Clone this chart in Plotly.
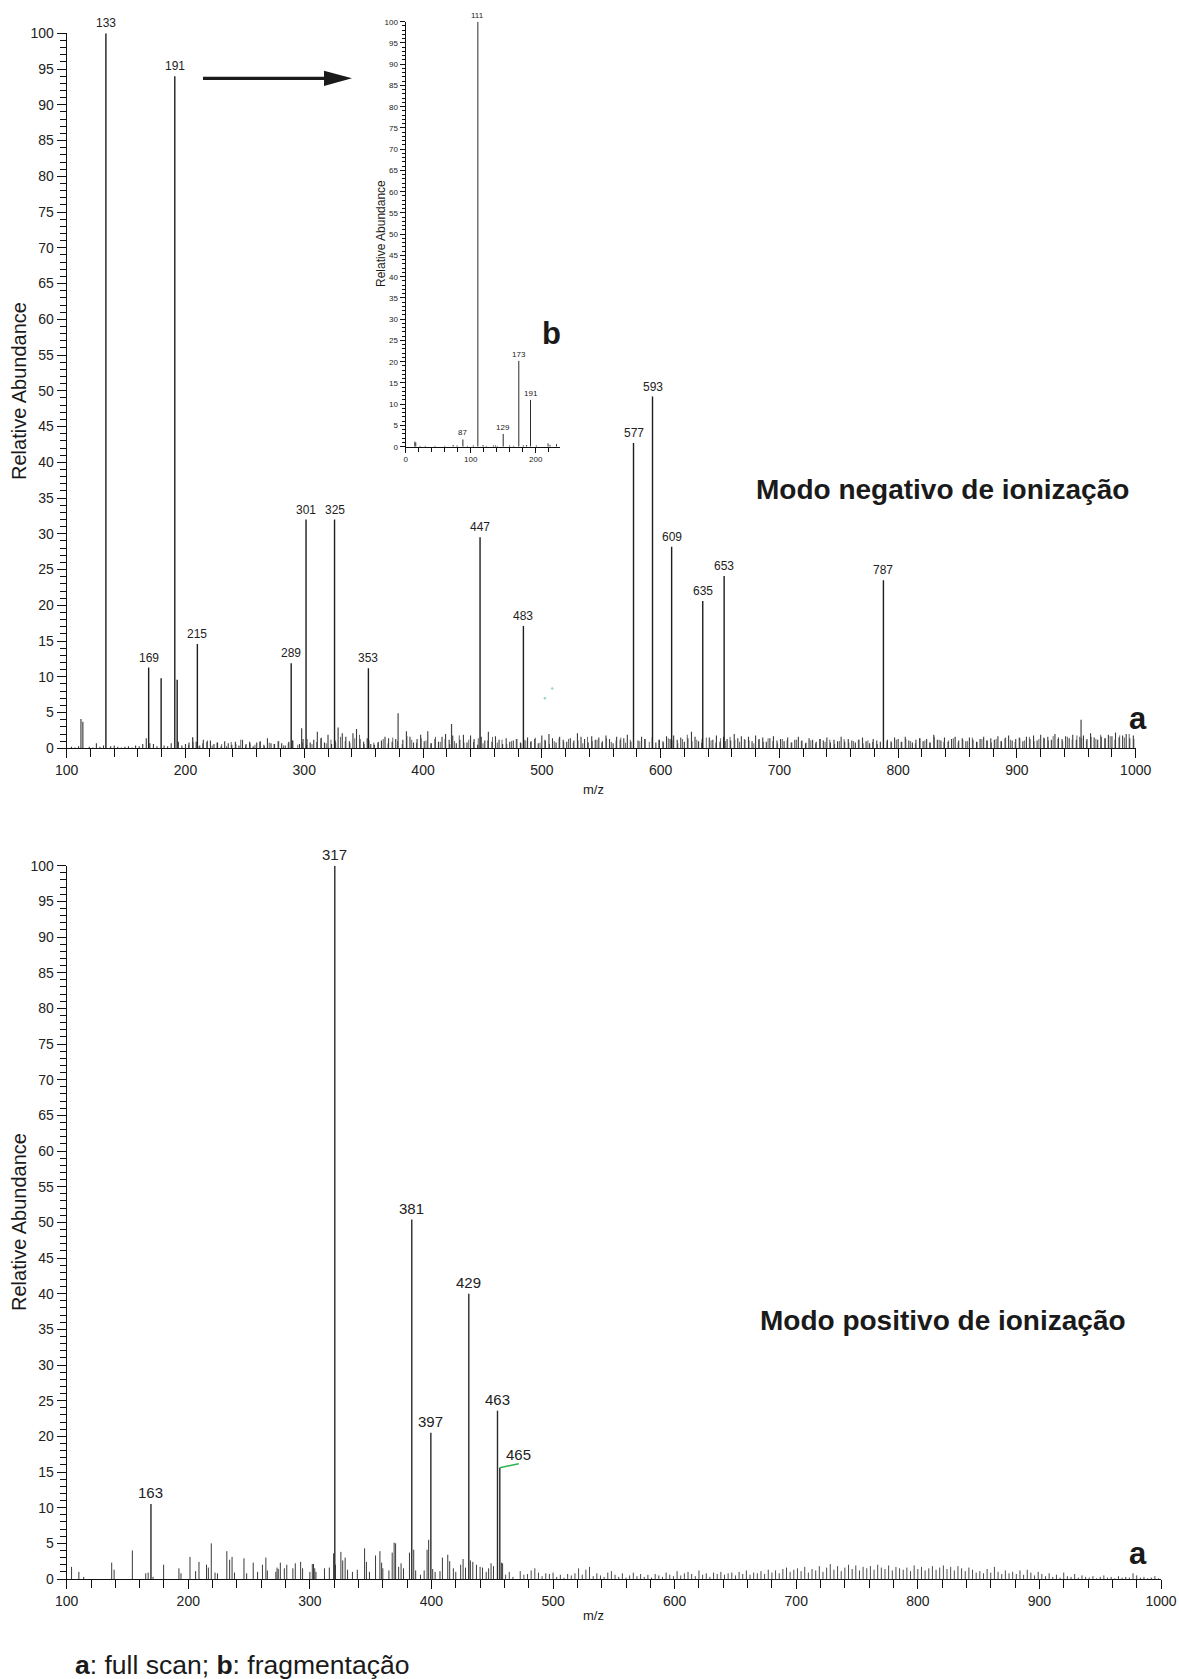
import plotly.graph_objects as go

W, H = 1179, 1679
FONT = "Liberation Sans, Arial, sans-serif"

# ---------------- data: negative mode (top) ----------------
neg_peak_mz = [133, 169, 179.5, 191, 193, 210, 289, 301.5, 325.5, 354, 448, 484.5, 577.2, 593.2, 609.3, 635.5, 653.5, 787.6]
neg_peak_h = [100, 11.3, 9.8, 94, 9.6, 14.6, 11.9, 32, 32, 11.2, 29.5, 17.1, 42.7, 49.2, 28.2, 20.6, 24.1, 23.5]
neg_peak_labels = ["133", "169", "", "191", "", "215", "289", "301", "325", "353", "447", "483", "577", "593", "609", "635", "653", "787"]

neg_minor_mz = [112, 113.6, 206, 297.8, 328.5, 379, 424, 954]
neg_minor_h = [4.1, 3.7, 1.5, 2.8, 2.9, 4.9, 3.4, 4.0]

neg_noise_start, neg_noise_step = 101, 3
neg_noise_h = [
    0.0, 0.2, 0.1, 0.3, 0.0, 0.0, 0.2, 0.1, 0.7, 0.2,
    0.4, 0.0, 0.3, 0.4, 0.2, 0.1, 0.2, 0.3, 0.1, 0.4,
    0.3, 0.6, 1.4, 0.7, 0.6, 0.3, 0.0, 0.4, 0.3, 0.7,
    0.0, 0.9, 0.4, 0.6, 0.8, 1.5, 0.9, 0.4, 1.2, 0.9,
    1.1, 0.6, 0.8, 0.3, 1.0, 0.7, 0.5, 0.9, 0.4, 1.2,
    0.6, 0.9, 0.3, 0.8, 1.0, 0.5, 1.4, 0.7, 0.6, 1.0,
    0.7, 0.4, 0.9, 1.1, 0.0, 0.6, 1.3, 0.5, 0.8, 1.2,
    2.3, 1.4, 0.8, 1.9, 0.6, 1.1, 0.0, 2.1, 1.6, 1.0,
    2.1, 2.7, 1.3, 0.9, 1.4, 0.6, 0.5, 0.8, 1.1, 1.6,
    1.4, 0.9, 1.3, 0.0, 1.2, 2.4, 1.6, 0.8, 1.3, 1.9,
    1.0, 2.4, 0.7, 1.3, 0.9, 1.6, 2.0, 1.2, 1.8, 0.7,
    1.2, 1.9, 0.8, 1.8, 1.3, 0.5, 1.6, 1.1, 2.3, 0.9,
    1.7, 1.2, 0.6, 1.4, 0.9, 1.1, 1.3, 0.8, 1.2, 1.5,
    1.0, 1.3, 0.7, 1.8, 1.1, 2.0, 1.4, 0.8, 1.6, 1.2,
    0.9, 1.4, 1.1, 2.1, 1.6, 1.3, 0.8, 1.7, 1.2, 1.5,
    1.0, 1.8, 1.3, 0.7, 1.6, 1.2, 1.4, 1.9, 0.9, 0.0,
    1.1, 1.6, 1.3, 0.0, 1.5, 0.8, 1.2, 1.0, 1.7, 1.3,
    1.8, 1.2, 1.5, 0.9, 1.4, 2.3, 1.6, 1.0, 1.3, 0.0,
    1.5, 1.2, 1.8, 0.9, 1.6, 1.3, 1.1, 2.0, 1.4, 1.7,
    1.2, 1.6, 1.0, 1.8, 1.3, 1.5, 0.9, 1.4, 1.7, 1.1,
    1.3, 1.0, 1.5, 0.8, 1.2, 1.6, 1.1, 0.7, 1.4, 1.2,
    0.9, 1.3, 1.1, 1.5, 0.8, 1.2, 1.0, 1.6, 0.9, 1.3,
    1.1, 0.8, 1.2, 1.5, 1.0, 0.7, 1.3, 1.1, 0.9, 0.0,
    1.2, 1.0, 1.5, 1.3, 0.9, 1.6, 1.1, 0.8, 1.2, 1.4,
    1.0, 1.3, 0.8, 1.9, 1.2, 1.1, 1.5, 0.9, 1.3, 1.6,
    1.1, 1.4, 1.0, 1.5, 1.2, 0.9, 1.3, 1.6, 1.1, 1.4,
    1.2, 1.7, 1.0, 1.4, 1.8, 1.1, 1.3, 1.5, 1.0, 1.6,
    1.3, 1.8, 1.1, 1.9, 1.4, 1.6, 1.2, 2.0, 1.5, 1.3,
    1.7, 1.4, 1.9, 1.2, 1.6, 1.8, 1.3, 2.1, 1.5, 1.2,
    1.6, 1.4, 1.9, 1.7, 2.2, 1.5, 1.8, 2.0, 1.4, 1.8,
]

# second, interleaved layer of baseline lines (200-1000)
neg_noise_b_start, neg_noise_b_step = 202.5, 4
neg_noise_b_h = [
    0.5, 0.9, 0.3, 0.7, 1.1, 0.4, 0.8, 0.6, 0.3, 0.9,
    0.6, 1.2, 0.4, 0.7, 0.5, 0.9, 0.3, 0.8, 0.6, 1.0,
    0.4, 0.7, 1.1, 0.5, 0.8, 1.3, 0.6, 0.9, 1.5, 0.7,
    1.2, 0.8, 1.6, 1.0, 0.7, 1.4, 1.9, 0.6, 1.1, 0.8,
    0.9, 1.3, 0.7, 1.5, 1.0, 0.6, 1.7, 1.2, 0.8, 1.4,
    1.1, 0.7, 1.6, 0.9, 1.3, 0.6, 1.0, 1.8, 0.8, 1.2,
    0.9, 1.4, 0.7, 1.1, 1.6, 0.8, 1.2, 0.6, 1.0, 1.3,
    0.7, 1.1, 0.9, 1.5, 0.8, 1.2, 0.6, 1.0, 1.4, 0.9,
    1.3, 0.8, 1.1, 0.7, 1.6, 1.0, 1.2, 0.8, 1.4, 0.9,
    1.1, 1.5, 0.8, 1.2, 0.0, 1.0, 1.3, 0.9, 0.0, 1.2,
    0.8, 1.4, 1.1, 0.7, 1.3, 1.9, 1.0, 1.2, 0.8, 1.5,
    1.1, 0.8, 1.4, 1.0, 1.6, 1.2, 0.9, 1.3, 1.1, 0.7,
    1.2, 0.9, 1.4, 1.0, 0.7, 1.3, 1.1, 0.8, 1.2, 1.0,
    0.8, 1.1, 0.7, 1.3, 0.9, 1.2, 0.6, 1.0, 1.3, 0.8,
    1.0, 1.2, 0.7, 1.1, 0.9, 0.6, 0.0, 1.0, 0.8, 1.2,
    0.9, 1.3, 1.0, 0.7, 1.4, 1.1, 0.8, 1.6, 1.2, 0.9,
    1.1, 1.4, 0.8, 1.2, 1.0, 1.5, 0.9, 1.3, 1.1, 0.8,
    1.3, 1.0, 1.5, 1.2, 0.9, 1.4, 1.1, 1.6, 1.0, 1.3,
    1.5, 1.1, 1.7, 1.3, 1.0, 1.6, 1.2, 1.8, 1.4, 1.1,
    1.6, 1.3, 1.9, 1.4, 1.7, 1.2, 1.8, 1.5, 2.0, 1.3,
]

# stray green dots in the original scan
neg_dots_mz = [502.6, 508.8]
neg_dots_h = [7.0, 8.35]

# ---------------- data: fragmentation inset (b) ----------------
ms2_peak_mz = [88, 111, 150, 174, 192]
ms2_peak_h = [1.7, 100, 3.0, 20.2, 11.0]
ms2_peak_labels = ["87", "111", "129", "173", "191"]
ms2_noise_mz = [14, 15.5, 22, 30, 45, 60, 73, 79, 95, 104, 119, 124, 135, 138, 141, 160, 166, 181, 186, 201, 219, 222, 232]
ms2_noise_h = [1.2, 1.0, 0.2, 0.2, 0.2, 0.2, 0.4, 0.3, 0.2, 0.3, 0.4, 0.2, 0.3, 0.3, 0.2, 0.3, 0.2, 0.3, 0.4, 0.3, 0.8, 0.4, 0.6]

# ---------------- data: positive mode (bottom) ----------------
pos_peak_mz = [169.3, 320.5, 383.8, 399.5, 430.7, 454.3, 456.2]
pos_peak_h = [10.5, 100, 50.4, 20.5, 40.0, 23.6, 15.6]
pos_peak_labels = ["163", "317", "381", "397", "429", "463", "465"]

pos_noise_mz = [104, 110, 114, 137, 139, 154, 165, 167, 171, 179.7, 192.3, 194, 201.4, 206, 208.8, 215, 216.5, 218.9,
                222, 224, 231.7, 234, 236, 238, 245.8, 248, 253.4, 257, 261, 263.8, 265, 272, 273, 274, 275.7, 279,
                281, 286, 288, 292.4, 294, 300, 302, 303, 304, 305, 312, 316, 319.5, 321, 325.5, 327, 329, 331, 335,
                339, 345, 346.5, 349, 354, 357.6, 359, 360, 365, 367.7, 369.3, 370.5, 373, 375, 377, 381.9, 385.4,
                387, 391, 394, 396.4, 397.7, 401, 403, 407, 409, 413.4, 415, 418, 420, 424, 426, 428, 432, 434, 437,
                440, 442, 445, 447, 449, 451, 457.5, 458.5]
pos_noise_h = [1.7, 1.0, 0.3, 2.3, 1.3, 4.0, 0.8, 0.9, 0.3, 2.0, 1.5, 0.8, 3.1, 1.1, 2.4, 2.0, 1.6, 5.0,
               0.9, 0.8, 3.9, 2.7, 3.1, 0.9, 2.9, 0.8, 2.3, 1.0, 2.0, 3.0, 1.2, 1.0, 1.6, 1.4, 2.3, 1.5,
               2.0, 1.5, 2.2, 2.4, 1.5, 1.0, 2.1, 2.1, 1.5, 1.0, 1.5, 1.6, 3.6, 2.0, 3.8, 2.6, 3.0, 1.3, 1.0,
               1.3, 4.3, 2.4, 1.0, 3.3, 3.9, 2.3, 1.5, 1.2, 3.7, 5.1, 5.0, 1.7, 2.2, 1.5, 3.7, 4.1,
               1.2, 0.6, 1.2, 4.1, 5.5, 1.4, 1.0, 1.1, 3.0, 3.4, 2.5, 1.5, 1.0, 2.0, 2.8, 1.6, 2.6, 2.4, 2.0,
               1.7, 1.6, 1.0, 1.5, 2.2, 1.8, 2.3, 2.2]

pos_noise2_start, pos_noise2_step = 461, 3
pos_noise2_h = [
    0.6, 1.0, 0.3, 0.0, 1.1, 0.6, 0.7, 1.2, 1.5, 0.9,
    0.4, 0.8, 0.7, 0.9, 0.3, 0.6, 0.2, 0.7, 0.5, 0.8,
    1.5, 0.6, 1.3, 1.7, 0.4, 0.8, 0.5, 0.3, 0.9, 1.1,
    0.6, 0.3, 0.8, 0.2, 0.5, 0.9, 0.4, 0.7, 0.3, 0.6,
    0.2, 0.7, 0.5, 0.3, 0.9, 0.6, 0.4, 1.1, 0.5, 0.8,
    1.0, 0.7, 0.4, 1.2, 0.6, 0.8, 0.3, 0.9, 0.7, 1.0,
    0.6, 0.8, 0.9, 0.5, 1.0, 0.7, 1.2, 0.6, 0.9, 0.8,
    1.1, 0.7, 1.3, 0.9, 1.2, 0.8, 1.4, 1.6, 1.0, 1.3,
    1.5, 1.1, 1.7, 0.9, 1.4, 1.2, 1.8, 1.0, 1.6, 2.1,
    1.3, 1.8, 1.1, 1.6, 2.0, 1.4, 1.9, 1.2, 1.7, 1.5,
    1.8, 1.3, 2.0, 1.6, 1.4, 1.9, 1.2, 1.7, 1.5, 1.3,
    1.6, 1.1, 1.9, 1.4, 1.7, 1.2, 1.5, 1.8, 1.3, 1.6,
    1.9, 1.4, 1.7, 1.2, 1.8, 1.5, 1.1, 1.6, 1.3, 0.9,
    1.1, 0.8, 1.4, 0.9, 1.7, 1.0, 0.7, 1.2, 0.8, 1.0,
    0.7, 1.2, 0.6, 1.3, 0.9, 0.5, 1.0, 0.7, 0.4, 0.8,
    0.3, 0.6, 0.2, 0.9, 0.4, 0.3, 0.7, 0.2, 0.5, 0.3,
    0.2, 0.4, 0.1, 0.3, 0.5, 0.2, 0.3, 0.1, 0.4, 0.2,
    0.3, 0.2, 0.8, 0.5, 0.2, 0.3, 0.1, 0.2, 0.4, 0.1,
]
assert len(pos_noise_mz) == len(pos_noise_h)
assert len(ms2_noise_mz) == len(ms2_noise_h)

neg_noise_mz = [neg_noise_start + neg_noise_step * i for i in range(len(neg_noise_h))]
neg_noise_b_mz = [neg_noise_b_start + neg_noise_b_step * i for i in range(len(neg_noise_b_h))]
pos_noise2_mz = [pos_noise2_start + pos_noise2_step * i for i in range(len(pos_noise2_h))]


def sticks(xs, ys):
    X, Y = [], []
    for x, y in zip(xs, ys):
        if y <= 0:
            continue
        X += [x, x, None]
        Y += [0, y, None]
    return X, Y


def px(x):
    return x / W


def py(y):
    return 1 - y / H


fig = go.Figure()


def add_sticks(xs, ys, xa, ya, color, width):
    X, Y = sticks(xs, ys)
    fig.add_trace(go.Scatter(x=X, y=Y, mode="lines", xaxis=xa, yaxis=ya,
                             line=dict(color=color, width=width), hoverinfo="skip", showlegend=False))


# top
add_sticks(neg_noise_b_mz, neg_noise_b_h, "x", "y", "#666666", 1)
add_sticks(neg_noise_mz, neg_noise_h, "x", "y", "#3a3a3a", 1.1)
add_sticks(neg_minor_mz, neg_minor_h, "x", "y", "#444444", 1.2)
add_sticks(neg_peak_mz, neg_peak_h, "x", "y", "#1e1e1e", 1.4)
fig.add_trace(go.Scatter(x=neg_dots_mz, y=neg_dots_h, mode="markers", xaxis="x", yaxis="y",
                         marker=dict(color="#8fdcb0", size=2.5), hoverinfo="skip", showlegend=False))
# inset
add_sticks(ms2_noise_mz, ms2_noise_h, "x3", "y3", "#333333", 1)
add_sticks(ms2_peak_mz, ms2_peak_h, "x3", "y3", "#2a2a2a", 1)
# bottom
add_sticks(pos_noise_mz, pos_noise_h, "x2", "y2", "#3a3a3a", 1)
add_sticks(pos_noise2_mz, pos_noise2_h, "x2", "y2", "#4a4a4a", 1)
add_sticks(pos_peak_mz, pos_peak_h, "x2", "y2", "#2a2a2a", 1.4)

ann = []
for mz, h, lab in zip(neg_peak_mz, neg_peak_h, neg_peak_labels):
    if lab:
        ann.append(dict(x=mz, y=h, xref="x", yref="y", text=lab, showarrow=False, xanchor="center",
                        yanchor="bottom", yshift=1, font=dict(size=12, color="#222")))
for mz, h, lab in zip(ms2_peak_mz, ms2_peak_h, ms2_peak_labels):
    ann.append(dict(x=mz, y=h, xref="x3", yref="y3", text=lab, showarrow=False, xanchor="center",
                    yanchor="bottom", yshift=0, font=dict(size=8, color="#222")))
for mz, h, lab in zip(pos_peak_mz, pos_peak_h, pos_peak_labels):
    if lab == "465":
        ann.append(dict(x=mz, y=h, xref="x2", yref="y2", text=lab, showarrow=True, arrowhead=0,
                        arrowcolor="#2bb34f", arrowwidth=1.5, ax=19, ay=-4, xanchor="center",
                        yanchor="bottom", standoff=0, borderpad=0, font=dict(size=15, color="#222")))
    else:
        ann.append(dict(x=mz, y=h, xref="x2", yref="y2", text=lab, showarrow=False, xanchor="center",
                        yanchor="bottom", yshift=1, font=dict(size=15, color="#222")))


def txt(x, y, text, size, angle=0, anchor="center"):
    return dict(x=px(x), y=py(y), xref="paper", yref="paper", text=text, textangle=angle,
                xanchor=anchor, yanchor="middle", showarrow=False, font=dict(size=size, color="#1a1a1a"))


ann += [
    txt(19, 391, "Relative Abundance", 20, -90),
    txt(19, 1222, "Relative Abundance", 20, -90),
    txt(381, 234, "Relative Abundance", 12, -90),
    txt(594, 789, "m/z", 13),
    txt(594, 1615, "m/z", 13),
    txt(942.5, 489, "<b>Modo negativo de ionização</b>", 28),
    txt(942.5, 1320, "<b>Modo positivo de ionização</b>", 28),
    txt(1138, 718, "<b>a</b>", 31),
    txt(1138, 1553, "<b>a</b>", 31),
    txt(551, 333, "<b>b</b>", 31),
    txt(73, 1665, "<b>a</b>: full scan; <b>b</b>: fragmentação", 26.5, 0, "left"),
]

shapes = [
    dict(type="line", xref="paper", yref="paper", x0=px(203), x1=px(330), y0=py(78.3), y1=py(78.3),
         line=dict(color="#1a1a1a", width=3.3)),
    dict(type="path", xref="paper", yref="paper",
         path=f"M {px(324)},{py(70.7)} L {px(352)},{py(78.3)} L {px(324)},{py(85.9)} Z",
         fillcolor="#1a1a1a", line=dict(color="#1a1a1a", width=0)),
]


def xax(domain, rng, dtick, minor_dtick, fs, tl, mtl, anchor):
    return dict(domain=domain, range=rng, anchor=anchor, tickmode="linear", tick0=rng[0], dtick=dtick,
                ticks="outside", ticklen=tl, tickwidth=1.3, tickcolor="#111", showline=True,
                linecolor="#111", linewidth=1.3, showgrid=False, zeroline=False, automargin=False,
                tickfont=dict(size=fs, color="#222"),
                minor=dict(dtick=minor_dtick, tick0=rng[0], ticks="outside", ticklen=mtl, tickwidth=1.3,
                           tickcolor="#111", showgrid=False))


def yax(domain, fs, tl, mtl, anchor):
    return dict(domain=domain, range=[0, 100], anchor=anchor, tickmode="linear", tick0=0, dtick=5,
                ticks="outside", ticklen=tl, tickwidth=1.3, tickcolor="#111", showline=True,
                linecolor="#111", linewidth=1.3, showgrid=False, zeroline=False, automargin=False,
                tickfont=dict(size=fs, color="#222"),
                minor=dict(dtick=1, tick0=0, ticks="outside", ticklen=mtl, tickwidth=1.2,
                           tickcolor="#111", showgrid=False))


fig.update_layout(
    width=W, height=H, autosize=False, margin=dict(l=0, r=0, t=0, b=0, pad=0),
    paper_bgcolor="white", plot_bgcolor="white",
    font=dict(family=FONT, color="#222"),
    xaxis=xax([px(66.7), px(1135.7)], [100, 1000], 100, 20, 14, 9, 8, "y"),
    yaxis=yax([py(748.3), py(33.3)], 14, 9, 6, "x"),
    xaxis2=xax([px(66.7), px(1161)], [100, 1000], 100, 20, 14, 9, 8, "y2"),
    yaxis2=yax([py(1579), py(865.7)], 14, 9, 6, "x2"),
    xaxis3=xax([px(405.7), px(559.75)], [0, 237], 100, 20, 8, 5, 4, "y3"),
    yaxis3=yax([py(446.7), py(21.7)], 8, 5, 3, "x3"),
    annotations=ann, shapes=shapes, showlegend=False,
)

fig.write_html(
    "out.html",
    config={"responsive": False, "displayModeBar": False},
    post_script="document.body.style.margin='0px';document.body.style.overflow='hidden';",
)
